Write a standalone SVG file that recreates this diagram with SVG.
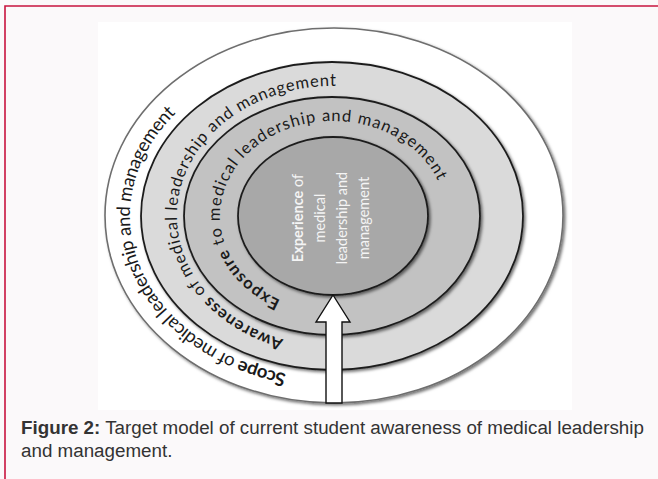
<svg xmlns="http://www.w3.org/2000/svg" xmlns:xlink="http://www.w3.org/1999/xlink" width="658" height="479" viewBox="0 0 658 479">
  <style>
    .ring-outer { fill: #ffffff; stroke: #6e6e6e; stroke-width: 1.6; }
    .ring { stroke: #1e1e1e; stroke-width: 1.8; }
    .band-text { font-family: Lato, "Open Sans", sans-serif; fill: #1a1a1a; }
    .band-text .lead { font-weight: bold; }
    .core-text { font-family: Lato, "Open Sans", sans-serif; font-size: 14.5px; fill: #f4f4f4; text-anchor: middle; }
    .caption { font-family: "Liberation Sans", Arial, sans-serif; font-size: 18.8px; fill: #333333; }
  </style>
  <defs>
    <filter id="soft-shadow" x="-10%" y="-10%" width="120%" height="120%">
      <feDropShadow dx="1.8" dy="1.8" stdDeviation="1.5" flood-color="#000" flood-opacity="0.55"/>
    </filter>
    <!-- baselines for the curved band labels, clockwise from the bottom -->
    <path id="path-scope" d="M 333 378 A 203 162 0 1 1 333 54 A 203 162 0 1 1 333 378"/>
    <path id="path-awareness" d="M 333 346 A 156 130 0 1 1 333 86 A 156 130 0 1 1 333 346"/>
    <path id="path-exposure" d="M 333 311 A 113 95 0 1 1 333 121 A 113 95 0 1 1 333 311"/>
  </defs>

  <!-- page panel -->
  <rect x="0" y="0" width="658" height="479" fill="#fbf9fa"/>
  <path d="M 5 479 L 5 6 L 658 6" fill="none" stroke="#c8153f" stroke-width="1.6"/>
  <rect x="98" y="22" width="474" height="388" fill="#ffffff"/>

  <!-- nested rings -->
  <g id="scope">
    <ellipse class="ring-outer" cx="334" cy="215.5" rx="229" ry="187.5" filter="url(#soft-shadow)"/>
    <text class="band-text" font-size="18.5"><textPath xlink:href="#path-scope" href="#path-scope" startOffset="47" textLength="356" lengthAdjust="spacing"><tspan class="lead">Scope</tspan> of medical leadership and management</textPath></text>
  </g>
  <g id="awareness">
    <ellipse class="ring" fill="#dadada" cx="332" cy="216" rx="191" ry="154" filter="url(#soft-shadow)"/>
    <text class="band-text" font-size="16.5"><textPath xlink:href="#path-awareness" href="#path-awareness" startOffset="50" textLength="403" lengthAdjust="spacing"><tspan class="lead">Awareness</tspan> of medical leadership and management</textPath></text>
  </g>
  <g id="exposure">
    <ellipse class="ring" fill="#c2c2c2" cx="332" cy="216" rx="148" ry="119" filter="url(#soft-shadow)"/>
    <text class="band-text" font-size="16.5"><textPath xlink:href="#path-exposure" href="#path-exposure" startOffset="54" textLength="400" lengthAdjust="spacing"><tspan class="lead">Exposure</tspan> to medical leadership and management</textPath></text>
  </g>
  <g id="experience">
    <ellipse class="ring" fill="#a8a8a8" cx="333" cy="216" rx="95" ry="79" filter="url(#soft-shadow)"/>
    <text class="core-text" transform="translate(303 218) rotate(-90)"><tspan font-weight="bold">Experience</tspan> of</text>
    <text class="core-text" transform="translate(325 218) rotate(-90)">medical</text>
    <text class="core-text" transform="translate(347 218) rotate(-90)">leadership and</text>
    <text class="core-text" transform="translate(369 218) rotate(-90)">management</text>
  </g>

  <!-- connector: upward arrow into the core -->
  <g id="connectors">
    <polygon points="333,295 350,322 342,322 342,403 326,403 326,322 316,322" fill="#ffffff" stroke="#111111" stroke-width="1.4" stroke-linejoin="miter"/>
  </g>

  <!-- caption -->
  <text class="caption" x="21" y="434"><tspan font-weight="bold">Figure 2:</tspan> Target model of current student awareness of medical leadership</text>
  <text class="caption" x="21" y="457">and management.</text>
</svg>
